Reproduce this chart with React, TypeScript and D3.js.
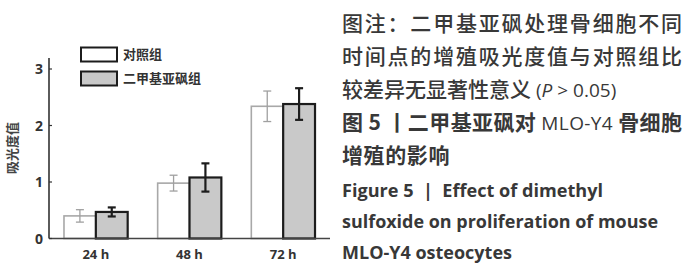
import { scaleBand, scaleLinear } from 'd3'

// 二甲基亚砜 vs 对照组 吸光度值 — grouped bars with SD error bars, plus the caption on the right.

const CATEGORIES = ['24 h', '48 h', '72 h']
const SERIES = ['对照组', '二甲基亚砜组']
const CONTROL_MEAN = [0.4, 0.98, 2.34]
const CONTROL_SD = [0.11, 0.14, 0.27]
const DMSO_MEAN = [0.47, 1.08, 2.38]
const DMSO_SD = [0.08, 0.25, 0.28]
const Y_TICKS = [0, 1, 2, 3]
const Y_LABEL = '吸光度值'

const CAPTION_CN = [
  '图注：二甲基亚砜处理骨细胞不同',
  '时间点的增殖吸光度值与对照组比',
]
const CAPTION_EN = ['Figure 5  |  Effect of dimethyl', 'sulfoxide on proliferation of mouse', 'MLO-Y4 osteocytes']
const CAPTION_EN_W = [261, 316, 170]

const W = 700
const H = 274
const PLOT = { left: 49, right: 330, top: 58, bottom: 238.5 }
const CJK = '"Noto Sans CJK SC", "Noto Sans", sans-serif'
const LAT = '"Open Sans", "Noto Sans CJK SC", sans-serif'

export default function App() {
  const x0 = scaleBand<string>().domain(CATEGORIES).range([PLOT.left, PLOT.right]).paddingInner(0.32).paddingOuter(0.16)
  const x1 = scaleBand<string>().domain(SERIES).range([0, x0.bandwidth()])
  const y = scaleLinear().domain([0, 3]).range([PLOT.bottom, 69])

  const series = [
    { key: SERIES[0], mean: CONTROL_MEAN, sd: CONTROL_SD, fill: '#ffffff', stroke: '#a8a8a8', sw: 1.6, eb: '#a0a0a0', ebw: 1.3 },
    { key: SERIES[1], mean: DMSO_MEAN, sd: DMSO_SD, fill: '#c9c9c9', stroke: '#1c1c1c', sw: 2.2, eb: '#1c1c1c', ebw: 2.2 },
  ]

  return (
    <svg width={W} height={H} style={{ position: 'absolute', left: 0, top: 0, background: '#fff' }}>
      {/* bars */}
      {series.map((s) =>
        CATEGORIES.map((c, i) => {
          const bx = (x0(c) ?? 0) + (x1(s.key) ?? 0)
          const bw = x1.bandwidth()
          const top = y(s.mean[i])
          const cx = bx + bw / 2
          return (
            <g key={s.key + c}>
              <rect x={bx} y={top} width={bw} height={PLOT.bottom - top} fill={s.fill} stroke={s.stroke} strokeWidth={s.sw} />
              <line x1={cx} x2={cx} y1={y(s.mean[i] + s.sd[i])} y2={y(s.mean[i] - s.sd[i])} stroke={s.eb} strokeWidth={s.ebw} />
              <line x1={cx - 4} x2={cx + 4} y1={y(s.mean[i] + s.sd[i])} y2={y(s.mean[i] + s.sd[i])} stroke={s.eb} strokeWidth={s.ebw} />
              <line x1={cx - 4} x2={cx + 4} y1={y(s.mean[i] - s.sd[i])} y2={y(s.mean[i] - s.sd[i])} stroke={s.eb} strokeWidth={s.ebw} />
            </g>
          )
        }),
      )}

      {/* axes */}
      <line x1={PLOT.left} x2={PLOT.right} y1={PLOT.bottom} y2={PLOT.bottom} stroke="#444" strokeWidth={1.5} />
      <line x1={PLOT.left} x2={PLOT.left} y1={PLOT.top} y2={PLOT.bottom} stroke="#333" strokeWidth={1.6} />
      {Y_TICKS.map((t) => (
        <g key={t}>
          <line x1={PLOT.left} x2={PLOT.left + 3} y1={y(t)} y2={y(t)} stroke="#333" strokeWidth={1.2} />
          <text x={43} y={y(t)} dy="0.36em" textAnchor="end" fontFamily={LAT} fontWeight={700} fontSize={14} fill="#333">
            {t}
          </text>
        </g>
      ))}
      {CATEGORIES.map((c) => (
        <text key={c} x={(x0(c) ?? 0) + x0.bandwidth() / 2} y={259} textAnchor="middle" fontFamily={LAT} fontWeight={700} fontSize={13} fill="#333">
          {c}
        </text>
      ))}
      <text transform="translate(17,148) rotate(-90)" textAnchor="middle" fontFamily={CJK} fontWeight={700} fontSize={13} fill="#444">
        {Y_LABEL}
      </text>

      {/* legend */}
      {series.map((s, i) => (
        <g key={s.key} transform={`translate(81, ${47.5 + i * 24})`}>
          <rect width={36} height={14} fill={s.fill} stroke="#1c1c1c" strokeWidth={2} />
          <text x={42} y={7} dy="0.36em" fontFamily={CJK} fontWeight={700} fontSize={13} fill="#333">
            {s.key}
          </text>
        </g>
      ))}

      {/* caption */}
      <g fill="#383838">
        {CAPTION_CN.map((t, i) => (
          <text key={t} x={342} y={31 + i * 33} fontFamily={CJK} fontSize={21} fontWeight={500} textLength={340} lengthAdjust="spacing">
            {t}
          </text>
        ))}
        <text x={342} y={97} fontFamily={CJK} fontSize={21} fontWeight={500}>
          较差异无显著性意义
          <tspan fontFamily={LAT} fontSize={19}> (<tspan fontStyle="italic">P</tspan> &gt; 0.05)</tspan>
        </text>
        <text x={342} y={130} fontFamily={CJK} fontSize={21} fontWeight={600} textLength={340} lengthAdjust="spacing">
          图 5 丨二甲基亚砜对 <tspan fontFamily={LAT} fontWeight={500} fontSize={19}>MLO-Y4</tspan> 骨细胞
        </text>
        <text x={342} y={163} fontFamily={CJK} fontSize={21} fontWeight={600} letterSpacing={0.6}>
          增殖的影响
        </text>
        {CAPTION_EN.map((t, i) => (
          <text
            key={t}
            x={342}
            y={197 + i * 31}
            fontFamily={LAT}
            fontSize={17}
            fontWeight={700}
            textLength={CAPTION_EN_W[i]}
            lengthAdjust="spacingAndGlyphs"
            style={{ whiteSpace: 'pre' }}
          >
            {t}
          </text>
        ))}
      </g>
    </svg>
  )
}
